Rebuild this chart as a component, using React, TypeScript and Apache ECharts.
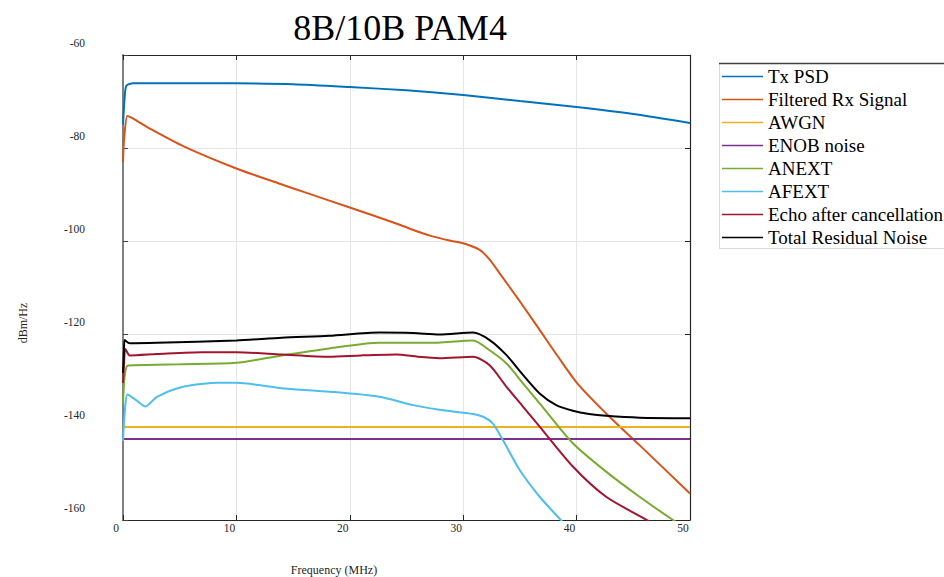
import React, { useEffect, useRef } from "react";
import * as echarts from "echarts";

// Axis ranges
const X_MIN = 0;
const X_MAX = 50;
const X_STEP = 10;
const Y_MIN = -160;
const Y_MAX = -60;
const Y_STEP = 20;

const TITLE = "8B/10B PAM4";
const X_NAME = "Frequency (MHz)";
const Y_NAME = "dBm/Hz";

const seriesNames = [
  "Tx PSD",
  "Filtered Rx Signal",
  "AWGN",
  "ENOB noise",
  "ANEXT",
  "AFEXT",
  "Echo after cancellation",
  "Total Residual Noise",
];

const seriesColors = [
  "#0072BD",
  "#D95319",
  "#EDB120",
  "#7E2F8E",
  "#77AC30",
  "#4DBEEE",
  "#A2142F",
  "#000000",
];

// [frequency MHz, dBm/Hz]
const txPsd = [
  [0, -75], [0.15, -69], [0.3, -66.6], [0.9, -66.1], [5, -66.05], [10, -66.1],
  [15, -66.3], [20, -66.9], [25, -67.6], [30, -68.6], [35, -69.9], [40, -71.2],
  [45, -72.7], [50, -74.6],
];

const filteredRx = [
  [0, -83], [0.1, -78], [0.38, -73.1], [0.7, -73.4], [1.2, -74.1], [2.5, -76.0],
  [5.4, -79.7], [10, -84.4], [14.2, -88], [16, -89.5], [20, -92.8], [24.4, -96.5],
  [25.9, -97.9], [27.3, -99.0], [28.8, -99.9], [30, -100.5], [31.45, -101.9],
  [32.3, -103.9], [33.2, -106.9], [35, -113], [36.74, -119.1], [38.4, -125],
  [40.06, -130.6], [42.9, -137.8], [45.55, -143.9], [50, -154.3],
];

const awgn = [
  [0, -140], [50, -140],
];

const enobNoise = [
  [0, -142.6], [50, -142.6],
];

const anext = [
  [0, -135], [0.15, -129], [0.4, -126.8], [1, -126.7], [5, -126.5], [10, -126.2],
  [14, -124.6], [18.2, -123.1], [22.6, -121.9], [27, -121.9], [30.87, -121.4],
  [32.33, -123.5], [33.8, -126.3], [35.27, -130.6], [36.74, -134.9],
  [39.67, -143.5], [42.6, -149.6], [45.55, -155], [48.5, -160], [50, -162.3],
];

const afext = [
  [0, -143], [0.15, -137], [0.4, -133], [1.2, -134.3], [1.97, -135.6], [3, -133.5],
  [5.4, -131.3], [8.4, -130.5], [10, -130.5], [14.2, -131.7], [18.2, -132.4],
  [22.6, -133.5], [25.6, -135.3], [27.9, -136.3], [30.87, -137.2], [31.75, -137.8],
  [32.6, -139.2], [33.5, -142.8], [34.97, -149.2], [36.74, -155], [38.6, -160],
  [40, -164], [42, -170],
];

const echoCancel = [
  [0, -130.5], [0.1, -126], [0.2, -123.2], [0.6, -124.6], [3, -124.3], [7, -123.9],
  [10, -123.9], [14, -124.4], [18.2, -124.9], [21, -124.6], [24.1, -124.4],
  [26, -124.9], [27.9, -125.2], [30.87, -124.9], [32.33, -126.7], [33.8, -131.3],
  [35.27, -135.6], [36.74, -139.9], [39.67, -148.5], [42.6, -155], [46.2, -160],
  [50, -165.5],
];

const totalNoise = [
  [0, -128.4], [0.08, -124], [0.15, -121.3], [0.6, -122], [3, -121.9], [10, -121.4],
  [14, -120.8], [18.2, -120.4], [22.6, -119.7], [25.6, -119.8], [27.9, -120.1],
  [30.87, -119.7], [32.33, -121.3], [33.8, -124.5], [35.27, -128.8], [36.74, -132.8],
  [38.2, -135.3], [39.67, -136.5], [41.1, -137.2], [42.6, -137.6], [45.55, -138],
  [50, -138.1],
];

const seriesData = [txPsd, filteredRx, awgn, enobNoise, anext, afext, echoCancel, totalNoise];

const FONT = "'Liberation Serif', 'Times New Roman', serif";

export default function App() {
  const ref = useRef<HTMLDivElement>(null);

  useEffect(() => {
    if (!ref.current) return;
    const chart = echarts.init(ref.current, undefined, { renderer: "svg" });

    const option: any = {
      animation: false,
      backgroundColor: "#ffffff",
      grid: { left: 123, right: 254, top: 55, bottom: 57, containLabel: false },
      xAxis: [
        {
          type: "value",
          min: X_MIN,
          max: X_MAX,
          interval: X_STEP,
          position: "bottom",
          axisLine: { show: true, onZero: false, lineStyle: { color: "#262626", width: 1.2 } },
          axisTick: { show: true, inside: true, length: 5, lineStyle: { color: "#262626" } },
          axisLabel: {
            margin: 2,
            fontSize: 11.5,
            fontFamily: FONT,
            color: "#262626",
            padding: [0, 14, 0, 0],
          },
          splitLine: { show: true, lineStyle: { color: "#e6e6e6", width: 1 } },
        },
        {
          type: "value",
          min: X_MIN,
          max: X_MAX,
          interval: X_STEP,
          position: "top",
          axisLine: { show: true, onZero: false, lineStyle: { color: "#262626", width: 1.2 } },
          axisTick: { show: true, inside: true, length: 5, lineStyle: { color: "#262626" } },
          axisLabel: { show: false },
          splitLine: { show: false },
        },
      ],
      yAxis: [
        {
          type: "value",
          min: Y_MIN,
          max: Y_MAX,
          interval: Y_STEP,
          position: "left",
          axisLine: { show: true, onZero: false, lineStyle: { color: "#808080", width: 2 } },
          axisTick: { show: true, inside: true, length: 5, lineStyle: { color: "#404040" } },
          axisLabel: {
            margin: 38,
            fontSize: 11.5,
            fontFamily: FONT,
            color: "#262626",
            verticalAlign: "bottom",
            lineHeight: 24,
          },
          splitLine: { show: true, lineStyle: { color: "#e6e6e6", width: 1 } },
        },
        {
          type: "value",
          min: Y_MIN,
          max: Y_MAX,
          interval: Y_STEP,
          position: "right",
          axisLine: { show: true, onZero: false, lineStyle: { color: "#262626", width: 1.2 } },
          axisTick: { show: true, inside: true, length: 5, lineStyle: { color: "#262626" } },
          axisLabel: { show: false },
          splitLine: { show: false },
        },
      ],
      legend: {
        orient: "vertical",
        left: 719,
        top: 63,
        padding: [2, 0, 0, 3],
        itemGap: 0,
        itemWidth: 41,
        itemHeight: 1.6,
        icon: "rect",
        data: seriesNames,
        textStyle: { fontFamily: FONT, fontSize: 19, color: "#000", lineHeight: 23 },
      },
      graphic: [
        {
          type: "rect",
          z: 0,
          shape: { x: 719.5, y: 63.5, width: 300, height: 185 },
          style: { fill: "#ffffff", stroke: "#d9d9d9", lineWidth: 1 },
        },
        {
          type: "line",
          z: 1,
          shape: { x1: 719, y1: 63.5, x2: 944, y2: 63.5 },
          style: { stroke: "#404040", lineWidth: 1.3 },
        },
        {
          type: "text",
          x: 400,
          y: 28,
          style: {
            text: TITLE,
            fontFamily: FONT,
            fontSize: 36,
            fill: "#000",
            textAlign: "center",
            textVerticalAlign: "middle",
          },
        },
        {
          type: "text",
          x: 334,
          y: 570,
          style: {
            text: X_NAME,
            fontFamily: FONT,
            fontSize: 12,
            fill: "#262626",
            textAlign: "center",
            textVerticalAlign: "middle",
          },
        },
        {
          type: "text",
          x: 23,
          y: 323,
          rotation: Math.PI / 2,
          style: {
            text: Y_NAME,
            fontFamily: FONT,
            fontSize: 12,
            fill: "#262626",
            textAlign: "center",
            textVerticalAlign: "middle",
          },
        },
      ],
      series: seriesNames.map((name, i) => ({
        type: "line",
        name,
        data: seriesData[i],
        xAxisIndex: 0,
        yAxisIndex: 0,
        symbol: "none",
        smooth: 0.25,
        clip: true,
        lineStyle: { width: 2, color: seriesColors[i] },
        itemStyle: { color: seriesColors[i] },
      })),
    };

    chart.setOption(option);
    return () => chart.dispose();
  }, []);

  return (
    <div
      ref={ref}
      style={{ position: "absolute", left: 0, top: 0, width: 944, height: 577, background: "#fff" }}
    />
  );
}
